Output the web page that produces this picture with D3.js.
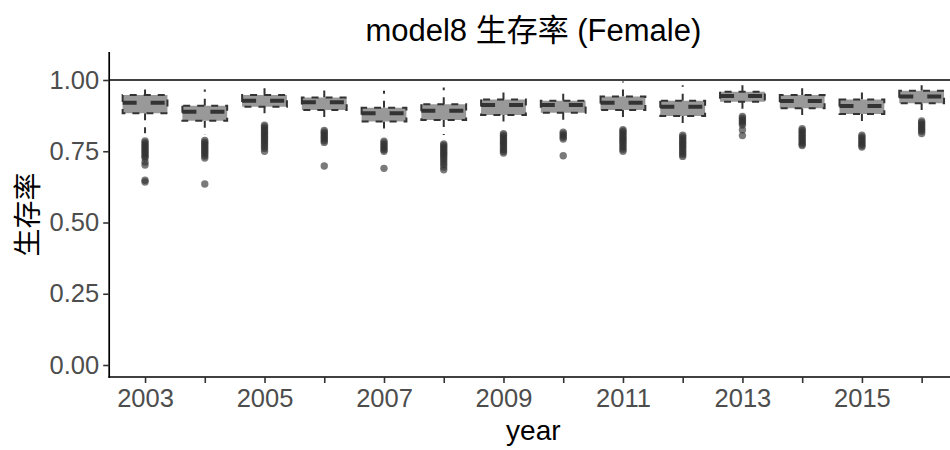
<!DOCTYPE html>
<html>
<head>
<meta charset="utf-8">
<script src="https://cdn.jsdelivr.net/npm/d3@7"></script>
<style>
  html, body { margin: 0; padding: 0; background: #fff; }
  svg { display: block; }
  text { font-family: "Liberation Sans", Arial, "Noto Sans CJK SC", sans-serif; }
</style>
</head>
<body>
<svg id="chart" width="950" height="450"></svg>
<script>
// Survival rate per year: box statistics and outlying draws
const years = [2003, 2004, 2005, 2006, 2007, 2008, 2009, 2010, 2011, 2012, 2013, 2014, 2015, 2016];
const whiskerHigh = [0.967, 0.967, 0.971, 0.967, 0.962, 0.974, 0.956, 0.956, 0.995, 0.982, 0.982, 0.971, 0.956, 0.982];
const q3          = [0.947, 0.910, 0.947, 0.939, 0.903, 0.915, 0.932, 0.927, 0.942, 0.927, 0.959, 0.947, 0.932, 0.962];
const median      = [0.920, 0.889, 0.927, 0.922, 0.883, 0.892, 0.912, 0.912, 0.920, 0.906, 0.944, 0.926, 0.909, 0.942];
const q1          = [0.883, 0.857, 0.906, 0.895, 0.854, 0.860, 0.877, 0.885, 0.895, 0.874, 0.924, 0.901, 0.881, 0.918];
const whiskerLow  = [0.813, 0.807, 0.883, 0.869, 0.830, 0.807, 0.854, 0.860, 0.869, 0.848, 0.897, 0.877, 0.856, 0.895];
const outliers = [
  [0.786, 0.780, 0.774, 0.768, 0.762, 0.756, 0.750, 0.744, 0.738, 0.732, 0.726, 0.712, 0.702, 0.648, 0.642],
  [0.788, 0.782, 0.776, 0.770, 0.764, 0.758, 0.752, 0.746, 0.740, 0.733, 0.726, 0.635],
  [0.841, 0.835, 0.829, 0.823, 0.817, 0.811, 0.805, 0.799, 0.793, 0.787, 0.781, 0.774, 0.767, 0.760, 0.750],
  [0.823, 0.817, 0.811, 0.805, 0.799, 0.793, 0.787, 0.781, 0.698],
  [0.785, 0.779, 0.773, 0.767, 0.761, 0.755, 0.750, 0.690],
  [0.776, 0.770, 0.764, 0.758, 0.752, 0.746, 0.740, 0.734, 0.727, 0.720, 0.712, 0.704, 0.695, 0.685],
  [0.812, 0.806, 0.800, 0.794, 0.788, 0.782, 0.776, 0.770, 0.763, 0.756, 0.750, 0.744],
  [0.817, 0.811, 0.805, 0.799, 0.793, 0.734],
  [0.826, 0.820, 0.814, 0.808, 0.802, 0.796, 0.790, 0.784, 0.778, 0.771, 0.764, 0.757, 0.750],
  [0.806, 0.800, 0.794, 0.788, 0.782, 0.776, 0.770, 0.764, 0.758, 0.751, 0.745, 0.738, 0.732],
  [0.872, 0.866, 0.860, 0.854, 0.848, 0.842, 0.825, 0.805],
  [0.829, 0.823, 0.817, 0.811, 0.805, 0.799, 0.793, 0.787, 0.781, 0.775, 0.770],
  [0.806, 0.800, 0.794, 0.788, 0.782, 0.776, 0.770, 0.765],
  [0.856, 0.850, 0.844, 0.838, 0.832, 0.826, 0.820, 0.812]
];
const yTicks = [0, 0.25, 0.5, 0.75, 1];
const labelledYears = [2003, 2005, 2007, 2009, 2011, 2013, 2015];
const refLine = 1;

const titleText = "model8 生存率 (Female)";
const xTitle = "year";
const yTitle = "生存率";

const svg = d3.select("#chart");
const W = 950, H = 450;
const panel = { left: 109.2, right: 957.5, top: 52, bottom: 377 };

const x = d3.scalePoint().domain(years).range([panel.left, panel.right]).padding(0.6);
const y = d3.scaleLinear().domain([0, 1]).range([365, 80]);
const boxW = x.step() * 0.75;

const rows = years.map((yr, i) => ({
  year: yr, hi: whiskerHigh[i], q3: q3[i], med: median[i], q1: q1[i], lo: whiskerLow[i], out: outliers[i]
}));

svg.append("defs").append("clipPath").attr("id", "panel-clip")
  .append("rect").attr("x", panel.left).attr("y", panel.top)
  .attr("width", panel.right - panel.left).attr("height", panel.bottom - panel.top);

const plot = svg.append("g").attr("clip-path", "url(#panel-clip)");

// reference line at 1.00
plot.append("line")
  .attr("x1", panel.left).attr("x2", panel.right)
  .attr("y1", y(refLine)).attr("y2", y(refLine))
  .attr("stroke", "#000").attr("stroke-width", 1.7);

const ink = "#333333";
const g = plot.selectAll("g.box").data(rows).join("g").attr("class", "box");

// whiskers, drawn outward from the box edges
g.append("line")
  .attr("x1", d => x(d.year)).attr("x2", d => x(d.year))
  .attr("y1", d => y(d.q3)).attr("y2", d => y(d.hi))
  .attr("stroke", ink).attr("stroke-width", 2).attr("stroke-dasharray", "7 7");
g.append("line")
  .attr("x1", d => x(d.year)).attr("x2", d => x(d.year))
  .attr("y1", d => y(d.q1)).attr("y2", d => y(d.lo))
  .attr("stroke", ink).attr("stroke-width", 2).attr("stroke-dasharray", "7 7");

// box body
g.append("path")
  .attr("d", d => {
    const x0 = x(d.year) - boxW / 2, x1 = x(d.year) + boxW / 2;
    return `M${x0},${y(d.q3)}L${x0},${y(d.q1)}L${x1},${y(d.q1)}L${x1},${y(d.q3)}Z`;
  })
  .attr("fill", "#999999").attr("stroke", ink).attr("stroke-width", 2)
  .attr("stroke-dasharray", "7 7");

// median
g.append("line")
  .attr("x1", d => x(d.year) - boxW / 2).attr("x2", d => x(d.year) + boxW / 2)
  .attr("y1", d => y(d.med)).attr("y2", d => y(d.med))
  .attr("stroke", ink).attr("stroke-width", 4).attr("stroke-dasharray", "14 14");

// outlying points
g.selectAll("circle").data(d => d.out.map(v => ({ year: d.year, v })))
  .join("circle")
  .attr("cx", d => x(d.year)).attr("cy", d => y(d.v)).attr("r", 3.7)
  .attr("fill", ink).attr("fill-opacity", 0.65);

// axes
const axisG = svg.append("g");
axisG.append("line")
  .attr("x1", panel.left).attr("x2", panel.left)
  .attr("y1", panel.top).attr("y2", panel.bottom + 0.8)
  .attr("stroke", "#000").attr("stroke-width", 1.7);
axisG.append("line")
  .attr("x1", panel.left - 0.8).attr("x2", W)
  .attr("y1", panel.bottom).attr("y2", panel.bottom)
  .attr("stroke", "#000").attr("stroke-width", 1.7);

const yAxis = d3.axisLeft(y).tickValues(yTicks).tickFormat(d3.format(".2f")).tickSize(6).tickPadding(4);
const yg = svg.append("g").attr("transform", `translate(${panel.left},0)`).call(yAxis);
yg.select(".domain").remove();
yg.selectAll(".tick line").attr("stroke", ink).attr("stroke-width", 1.6);
yg.selectAll(".tick text").attr("fill", "#4d4d4d").attr("font-size", 25.5)
  .attr("font-family", "Liberation Sans, Arial, sans-serif");

const xAxis = d3.axisBottom(x).tickFormat(d => labelledYears.includes(d) ? String(d) : "").tickSize(6).tickPadding(6);
const xg = svg.append("g").attr("transform", `translate(0,${panel.bottom})`).call(xAxis);
xg.select(".domain").remove();
xg.selectAll(".tick line").attr("stroke", ink).attr("stroke-width", 1.6);
xg.selectAll(".tick text").attr("fill", "#4d4d4d").attr("font-size", 25.5)
  .attr("font-family", "Liberation Sans, Arial, sans-serif");

// titles
const mid = (panel.left + panel.right) / 2;
svg.append("text").attr("x", mid).attr("y", 41).attr("text-anchor", "middle")
  .attr("font-size", 31).attr("fill", "#000").text(titleText);
svg.append("text").attr("x", mid).attr("y", 440).attr("text-anchor", "middle")
  .attr("font-size", 28).attr("fill", "#000").text(xTitle);
svg.append("text")
  .attr("transform", `translate(38,${(panel.top + panel.bottom) / 2}) rotate(-90)`)
  .attr("text-anchor", "middle")
  .attr("font-family", "Noto Sans CJK SC, sans-serif")
  .attr("font-size", 28).attr("fill", "#000").text(yTitle);
</script>
</body>
</html>
